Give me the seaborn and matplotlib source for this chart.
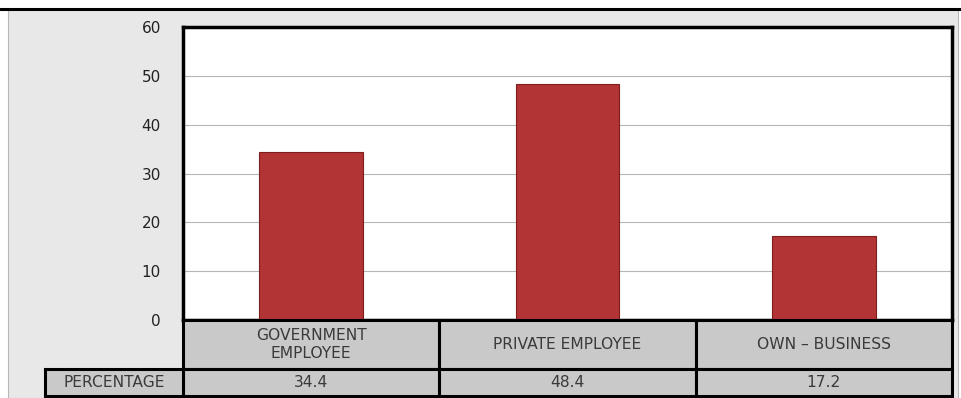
import matplotlib
matplotlib.use("Agg")
import matplotlib.pyplot as plt
import matplotlib.transforms as mtransforms
from matplotlib.patches import Rectangle
import seaborn as sns
import pandas as pd

categories = ["GOVERNMENT\nEMPLOYEE", "PRIVATE EMPLOYEE", "OWN \u2013 BUSINESS"]
percentages = [34.4, 48.4, 17.2]
value_labels = ["34.4", "48.4", "17.2"]
row_label = "PERCENTAGE"
y_ticks = [0, 10, 20, 30, 40, 50, 60]

df = pd.DataFrame({"cat": categories, "pct": percentages})

sns.set_theme(style="white")
plt.rcParams["font.family"] = ["DejaVu Sans"]

W, H = 962, 398
fig = plt.figure(figsize=(W / 100, H / 100), dpi=100)
fig.patch.set_facecolor("white")

def fx(px):
    return px / W

def fy(py):
    return 1 - py / H

# outer light-gray panel
fig.add_artist(Rectangle((fx(8), fy(398)), fx(958) - fx(8), fy(9) - fy(398),
                         transform=fig.transFigure, facecolor="#e8e8e8",
                         edgecolor="#b8b8b8", linewidth=0.8, zorder=0))
fig.add_artist(plt.Line2D([0, 1], [fy(9), fy(9)], transform=fig.transFigure,
                          color="black", linewidth=2.2, zorder=1))

ax = fig.add_axes([fx(183), fy(320), fx(952) - fx(183), fy(27) - fy(320)])
ax.set_facecolor("white")
sns.barplot(data=df, x="cat", y="pct", ax=ax, color="#b23434", width=0.405,
            edgecolor="#7e1e1e", linewidth=0.8, saturation=1, zorder=3)
ax.set_ylim(0, 60)
ax.set_xlim(-0.5, len(categories) - 0.5)
ax.set_yticks(y_ticks)
ax.set_yticklabels([str(t) for t in y_ticks], fontsize=11, color="#222222")
ax.tick_params(axis="y", length=0, pad=16)
ax.set_xticks([])
ax.set_xlabel("")
ax.set_ylabel("")
ax.yaxis.grid(True, color="#b5b5b5", linewidth=0.8)
ax.set_axisbelow(True)
for s in ax.spines.values():
    s.set_visible(True)
    s.set_color("black")
    s.set_linewidth(2.5)

# data table below axes: x in data coords, y in figure coords
trans = mtransforms.blended_transform_factory(ax.transData, fig.transFigure)
cell_fc = "#c9c9c9"
lw = 2.2
fs = 11.2
tc = "#3a3a3a"
for i, (cat, lab) in enumerate(zip(categories, value_labels)):
    fig.add_artist(Rectangle((i - 0.5, fy(369)), 1, fy(320) - fy(369), transform=trans,
                             facecolor=cell_fc, edgecolor="black", linewidth=lw, zorder=2))
    fig.add_artist(Rectangle((i - 0.5, fy(396)), 1, fy(369) - fy(396), transform=trans,
                             facecolor=cell_fc, edgecolor="black", linewidth=lw, zorder=2))
    fig.text(i, (fy(320) + fy(369)) / 2, cat, transform=trans, ha="center", va="center",
             fontsize=fs, color=tc, linespacing=1.3, zorder=4)
    fig.text(i, (fy(369) + fy(396)) / 2, lab, transform=trans, ha="center", va="center",
             fontsize=fs, color=tc, zorder=4)

fig.add_artist(Rectangle((fx(45), fy(396)), fx(183) - fx(45), fy(369) - fy(396),
                         transform=fig.transFigure, facecolor=cell_fc, edgecolor="black",
                         linewidth=lw, zorder=2))
fig.text((fx(45) + fx(183)) / 2, (fy(369) + fy(396)) / 2, row_label, ha="center", va="center",
         fontsize=fs, color=tc, zorder=4)

fig.savefig("out.png", dpi=100)
